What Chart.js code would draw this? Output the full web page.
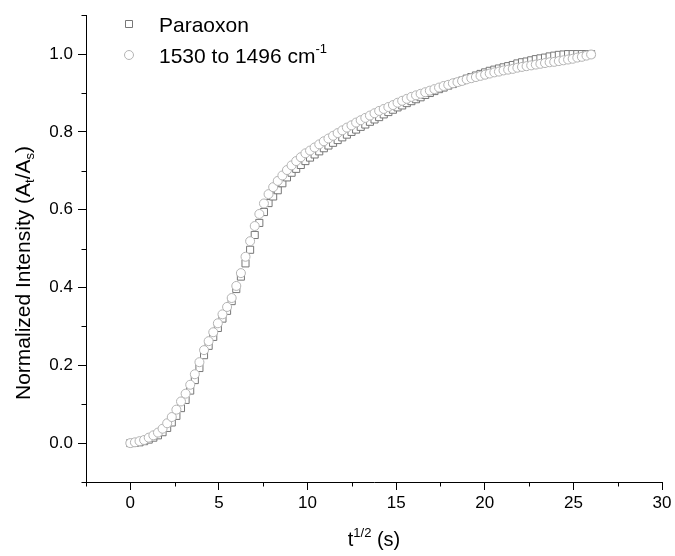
<!DOCTYPE html>
<html>
<head>
<meta charset="utf-8">
<script src="https://cdn.jsdelivr.net/npm/chart.js@4.4.1/dist/chart.umd.min.js"></script>
<style>
  html, body { margin: 0; padding: 0; background: #fff; }
  #wrap { width: 675px; height: 556px; }
</style>
</head>
<body>
<div id="wrap"><canvas id="chart" width="675" height="556"></canvas></div>
<script>
// t^1/2 (s)
const xValues = [
  0.00, 0.26, 0.52, 0.78, 1.04, 1.30, 1.56, 1.82, 2.08, 2.34,
  2.60, 2.86, 3.12, 3.38, 3.64, 3.90, 4.16, 4.42, 4.68, 4.94,
  5.20, 5.46, 5.72, 5.98, 6.24, 6.50, 6.76, 7.02, 7.28, 7.54,
  7.80, 8.06, 8.32, 8.58, 8.84, 9.10, 9.36, 9.62, 9.88, 10.14,
  10.40, 10.66, 10.92, 11.18, 11.44, 11.70, 11.96, 12.22, 12.48, 12.74,
  13.00, 13.26, 13.52, 13.78, 14.04, 14.30, 14.56, 14.82, 15.08, 15.34,
  15.60, 15.86, 16.12, 16.38, 16.64, 16.90, 17.16, 17.42, 17.68, 17.94,
  18.20, 18.46, 18.72, 18.98, 19.24, 19.50, 19.76, 20.02, 20.28, 20.54,
  20.80, 21.06, 21.32, 21.58, 21.84, 22.10, 22.36, 22.62, 22.88, 23.14,
  23.40, 23.66, 23.92, 24.18, 24.44, 24.70, 24.96, 25.22, 25.48, 25.74,
  26.00
];

// Paraoxon (squares)
const paraoxon = [
  0.000, 0.001, 0.002, 0.005, 0.009, 0.014, 0.020, 0.028, 0.039, 0.053,
  0.070, 0.090, 0.111, 0.135, 0.162, 0.193, 0.226, 0.250, 0.273, 0.296,
  0.320, 0.340, 0.365, 0.396, 0.428, 0.462, 0.497, 0.535, 0.566, 0.594,
  0.617, 0.634, 0.650, 0.668, 0.683, 0.695, 0.705, 0.715, 0.725, 0.734,
  0.742, 0.750, 0.758, 0.765, 0.772, 0.779, 0.786, 0.793, 0.800, 0.806,
  0.813, 0.819, 0.826, 0.832, 0.838, 0.845, 0.851, 0.857, 0.863, 0.868,
  0.874, 0.879, 0.884, 0.889, 0.895, 0.900, 0.905, 0.910, 0.914, 0.919,
  0.923, 0.928, 0.932, 0.937, 0.941, 0.945, 0.949, 0.953, 0.957, 0.960,
  0.963, 0.966, 0.969, 0.972, 0.976, 0.979, 0.981, 0.984, 0.987, 0.989,
  0.991, 0.994, 0.996, 0.998, 0.999, 1.000, 1.000, 1.000, 1.000, 1.000,
  1.000
];

// 1530 to 1496 cm-1 (circles)
const band = [
  0.000, 0.002, 0.005, 0.008, 0.014, 0.020, 0.027, 0.037, 0.051, 0.067,
  0.086, 0.107, 0.127, 0.150, 0.177, 0.208, 0.239, 0.262, 0.285, 0.308,
  0.331, 0.350, 0.373, 0.404, 0.437, 0.479, 0.519, 0.558, 0.589, 0.616,
  0.640, 0.658, 0.674, 0.688, 0.702, 0.714, 0.725, 0.735, 0.745, 0.752,
  0.760, 0.768, 0.776, 0.783, 0.790, 0.797, 0.804, 0.811, 0.817, 0.824,
  0.830, 0.836, 0.842, 0.848, 0.854, 0.859, 0.864, 0.869, 0.875, 0.880,
  0.885, 0.890, 0.894, 0.898, 0.902, 0.906, 0.910, 0.914, 0.918, 0.921,
  0.925, 0.928, 0.931, 0.935, 0.938, 0.941, 0.944, 0.947, 0.950, 0.953,
  0.955, 0.958, 0.960, 0.962, 0.965, 0.967, 0.969, 0.971, 0.973, 0.975,
  0.977, 0.979, 0.980, 0.982, 0.984, 0.986, 0.988, 0.991, 0.993, 0.996,
  0.999
];

const xMajorTicks = [0, 5, 10, 15, 20, 25, 30];
const xMinorTicks = [-2.5, 2.5, 7.5, 12.5, 17.5, 22.5, 27.5];
const yMajorTicks = [0.0, 0.2, 0.4, 0.6, 0.8, 1.0];
const yMinorTicks = [-0.1, 0.1, 0.3, 0.5, 0.7, 0.9, 1.1];

const FONT = '"Liberation Sans", Arial, sans-serif';
const SQUARE_COLOR = '#777777';
const CIRCLE_COLOR = '#b4b4b4';

function toPoints(ys) {
  return xValues.map((x, i) => ({ x: x, y: ys[i] }));
}

// draws text pieces with sub/superscripts
function drawRich(ctx, parts, x, y, align) {
  let total = 0;
  parts.forEach(p => {
    ctx.font = p.size + 'px ' + FONT;
    p.w = ctx.measureText(p.t).width;
    total += p.w;
  });
  let cx = align === 'center' ? x - total / 2 : x;
  parts.forEach(p => {
    ctx.font = p.size + 'px ' + FONT;
    ctx.fillText(p.t, cx, y + (p.dy || 0));
    cx += p.w;
  });
}

const extras = {
  id: 'extras',
  afterDraw(chart) {
    const ctx = chart.ctx;
    const xs = chart.scales.x, ys = chart.scales.y;
    const area = chart.chartArea;
    ctx.save();

    // minor ticks
    ctx.strokeStyle = '#000';
    ctx.lineWidth = 1;
    ctx.beginPath();
    xMinorTicks.forEach(v => {
      const px = Math.round(xs.getPixelForValue(v)) + 0.5;
      ctx.moveTo(px, area.bottom);
      ctx.lineTo(px, area.bottom + 4.5);
    });
    yMinorTicks.forEach(v => {
      const py = Math.round(ys.getPixelForValue(v)) + 0.5;
      ctx.moveTo(area.left, py);
      ctx.lineTo(area.left - 4.5, py);
    });
    ctx.stroke();

    ctx.fillStyle = '#000';
    ctx.textBaseline = 'alphabetic';

    // x title
    drawRich(ctx, [
      { t: 't', size: 20 },
      { t: '1/2', size: 13, dy: -9 },
      { t: ' (s)', size: 20 }
    ], 374, 546, 'center');

    // y title
    ctx.save();
    ctx.translate(30, 273);
    ctx.rotate(-Math.PI / 2);
    drawRich(ctx, [
      { t: 'Normalized Intensity (A', size: 21 },
      { t: 't', size: 13, dy: 4 },
      { t: '/A', size: 21 },
      { t: 's', size: 13, dy: 4 },
      { t: ')', size: 21 }
    ], 0, 0, 'center');
    ctx.restore();

    // legend
    ctx.lineWidth = 1;
    ctx.strokeStyle = SQUARE_COLOR;
    ctx.fillStyle = '#fff';
    ctx.beginPath();
    ctx.rect(125.5, 20.5, 7, 7);
    ctx.fill();
    ctx.stroke();
    ctx.strokeStyle = CIRCLE_COLOR;
    ctx.beginPath();
    ctx.arc(129, 55, 4.5, 0, Math.PI * 2);
    ctx.fill();
    ctx.stroke();

    ctx.fillStyle = '#000';
    drawRich(ctx, [{ t: 'Paraoxon', size: 21 }], 159, 32, 'left');
    drawRich(ctx, [
      { t: '1530 to 1496 cm', size: 21 },
      { t: '-1', size: 13, dy: -10 }
    ], 159, 63, 'left');

    ctx.restore();
  }
};

new Chart(document.getElementById('chart').getContext('2d'), {
  type: 'scatter',
  data: {
    datasets: [
      {
        label: 'Paraoxon',
        data: toPoints(paraoxon),
        pointStyle: 'rect',
        pointRadius: 5,
        borderColor: SQUARE_COLOR,
        backgroundColor: '#fff',
        borderWidth: 1,
        order: 2
      },
      {
        label: '1530 to 1496 cm-1',
        data: toPoints(band),
        pointStyle: 'circle',
        pointRadius: 4.5,
        borderColor: CIRCLE_COLOR,
        backgroundColor: '#fff',
        borderWidth: 1,
        order: 1
      }
    ]
  },
  options: {
    responsive: false,
    animation: false,
    devicePixelRatio: 1,
    layout: { padding: { top: 12, right: 13, left: 0, bottom: 0 } },
    plugins: {
      legend: { display: false },
      tooltip: { enabled: false }
    },
    scales: {
      x: {
        type: 'linear',
        min: -2.5,
        max: 30,
        afterBuildTicks: s => { s.ticks = xMajorTicks.map(v => ({ value: v })); },
        afterFit: s => { s.height = 74; },
        ticks: {
          color: '#000',
          font: { family: FONT, size: 17 },
          padding: 3,
          maxRotation: 0,
          autoSkip: false,
          callback: v => String(v)
        },
        grid: { drawOnChartArea: false, drawTicks: true, tickLength: 8, color: '#000', lineWidth: 1 },
        border: { display: true, color: '#000', width: 1 }
      },
      y: {
        type: 'linear',
        min: -0.1,
        max: 1.1,
        afterBuildTicks: s => { s.ticks = yMajorTicks.map(v => ({ value: v })); },
        afterFit: s => { s.width = 86; },
        ticks: {
          color: '#000',
          font: { family: FONT, size: 17 },
          padding: 5,
          autoSkip: false,
          callback: v => v.toFixed(1)
        },
        grid: { drawOnChartArea: false, drawTicks: true, tickLength: 8, color: '#000', lineWidth: 1 },
        border: { display: true, color: '#000', width: 1 }
      }
    }
  },
  plugins: [extras]
});
</script>
</body>
</html>
